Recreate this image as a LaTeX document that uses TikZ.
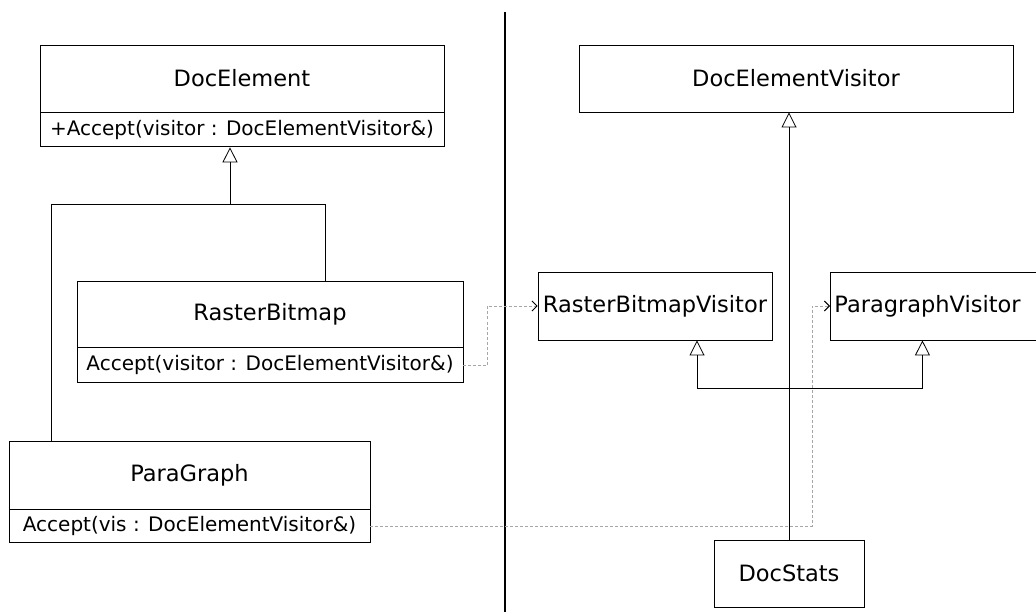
\documentclass[tikz,border=0pt]{standalone}
\usepackage{fontspec}
\setmainfont{DejaVu Sans}
\usetikzlibrary{arrows.meta}

\begin{document}
\begin{tikzpicture}[x=1pt,y=-1pt,
  cls/.style={draw,line width=0.9pt,inner sep=0pt,font=\fontsize{22.5}{26}\selectfont},
  op/.style={draw,line width=0.9pt,inner sep=0pt,anchor=north,font=\fontsize{20}{24}\selectfont},
  inherit/.style={line width=0.8pt,-{Triangle[open,length=15pt,width=15pt,line width=0.8pt]}},
  depend/.style={gray!70,line width=0.7pt,dash pattern=on 3pt off 2pt,
    -{Straight Barb[length=5pt,width=10pt,line width=0.9pt,black]}}]
\useasboundingbox (0,0) rectangle (1036,612);
% left side: element classes
\node[cls,minimum width=404pt,minimum height=67pt] (elem)     at (242,78.5) {DocElement};
\node[op, minimum width=404pt,minimum height=34pt] (elem-op)  at (elem.south) {+Accept(visitor : DocElementVisitor\&)};
\node[cls,minimum width=386pt,minimum height=66pt] (raster)   at (270,314) {RasterBitmap};
\node[op, minimum width=386pt,minimum height=35pt] (raster-op) at (raster.south) {Accept(visitor : DocElementVisitor\&)};
\node[cls,minimum width=361pt,minimum height=68pt] (para)     at (189.5,475) {ParaGraph};
\node[op, minimum width=361pt,minimum height=33pt] (para-op)  at (para.south) {Accept(vis : DocElementVisitor\&)};
% right side: visitor classes
\node[cls,minimum width=434pt,minimum height=67pt] (visitor)  at (796,78.5) {DocElementVisitor};
\node[cls,minimum width=234pt,minimum height=68pt] (rbv)      at (655,306) {RasterBitmapVisitor};
\node[cls,minimum height=68pt,anchor=west,inner xsep=4pt,text width=204pt,align=left] (pv) at (830,306) {ParagraphVisitor};
\node[cls,minimum width=150pt,minimum height=67pt] (stats)    at (789,573.5) {DocStats};
% divider
\draw[line width=2.2pt] (505,12) -- (505,612);
% generalizations
\coordinate (elem-join) at (230,204);
\coordinate (stats-join) at ([yshift=151pt]stats.north);
\draw[line width=0.8pt] ([xshift=-138.5pt]para.north) |- (elem-join);
\draw[inherit] ([xshift=55pt]raster.north) |- (elem-join) -- (elem-join |- elem-op.south);
\draw[inherit] (stats.north) -- (stats.north |- visitor.south);
\draw[inherit] (stats-join) -| ([xshift=42pt]rbv.south);
\draw[inherit] (stats-join) -| ([xshift=-14pt]pv.south);
% dependencies
\draw[depend] (raster-op.east) -| ([xshift=-50pt]rbv.west) -- (rbv.west);
\draw[depend] (para-op.east) -| ([xshift=-18pt]pv.west) -- (pv.west);
\end{tikzpicture}
\end{document}
